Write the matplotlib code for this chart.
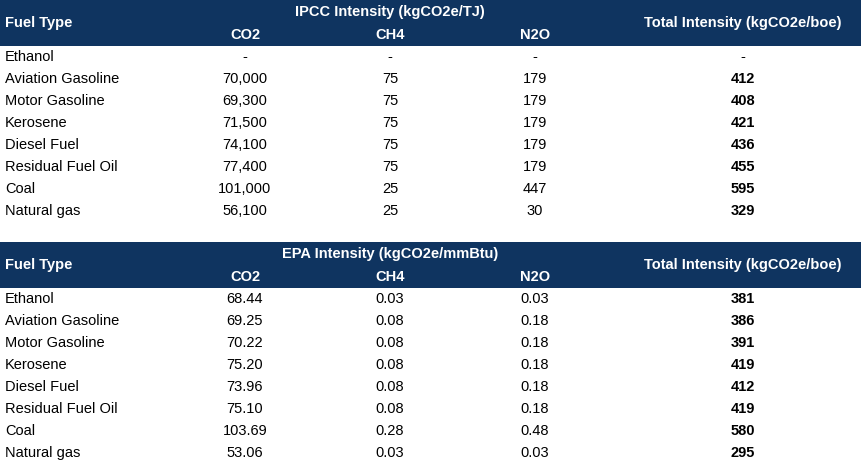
import matplotlib.pyplot as plt

# data
fuels = ["Ethanol", "Aviation Gasoline", "Motor Gasoline", "Kerosene",
         "Diesel Fuel", "Residual Fuel Oil", "Coal", "Natural gas"]
ipcc_co2 = ["-", "70,000", "69,300", "71,500", "74,100", "77,400", "101,000", "56,100"]
ipcc_ch4 = ["-", "75", "75", "75", "75", "75", "25", "25"]
ipcc_n2o = ["-", "179", "179", "179", "179", "179", "447", "30"]
ipcc_total = ["-", "412", "408", "421", "436", "455", "595", "329"]
epa_co2 = ["68.44", "69.25", "70.22", "75.20", "73.96", "75.10", "103.69", "53.06"]
epa_ch4 = ["0.03", "0.08", "0.08", "0.08", "0.08", "0.08", "0.28", "0.03"]
epa_n2o = ["0.03", "0.18", "0.18", "0.18", "0.18", "0.18", "0.48", "0.03"]
epa_total = ["381", "386", "391", "419", "412", "419", "580", "295"]

navy = "#0f3460"
font = "Liberation Sans"
fs = 10.5

fig = plt.figure(figsize=(8.62, 4.62), dpi=100)
ax = fig.add_axes([0, 0, 1, 1])
ax.set_xlim(0, 862)
ax.set_ylim(462, 0)
ax.axis("off")

col_x = [245, 390, 535]
total_x = 743


def block(top, title, co2, ch4, n2o, total):
    ax.add_patch(plt.Rectangle((0, top), 862, 46, color=navy, lw=0))
    kw = dict(color="white", fontweight="bold", fontsize=fs, family=font, va="center")
    ax.text(5, top + 23, "Fuel Type", ha="left", **kw)
    ax.text(390, top + 12, title, ha="center", **kw)
    for x, lab in zip(col_x, ["CO2", "CH4", "N2O"]):
        ax.text(x, top + 35, lab, ha="center", **kw)
    ax.text(total_x, top + 23, "Total Intensity (kgCO2e/boe)", ha="center", **kw)
    for i, f in enumerate(fuels):
        y = top + 57 + i * 22
        tk = dict(fontsize=fs, family=font, va="center", color="black")
        ax.text(5, y, f, ha="left", **tk)
        for x, v in zip(col_x, [co2[i], ch4[i], n2o[i]]):
            ax.text(x, y, v, ha="center", **tk)
        ax.text(total_x, y, total[i], ha="center",
                fontweight="normal" if total[i] == "-" else "bold", **tk)


block(0, "IPCC Intensity (kgCO2e/TJ)", ipcc_co2, ipcc_ch4, ipcc_n2o, ipcc_total)
block(242, "EPA Intensity (kgCO2e/mmBtu)", epa_co2, epa_ch4, epa_n2o, epa_total)

fig.savefig("out.png", dpi=100, facecolor="white")
